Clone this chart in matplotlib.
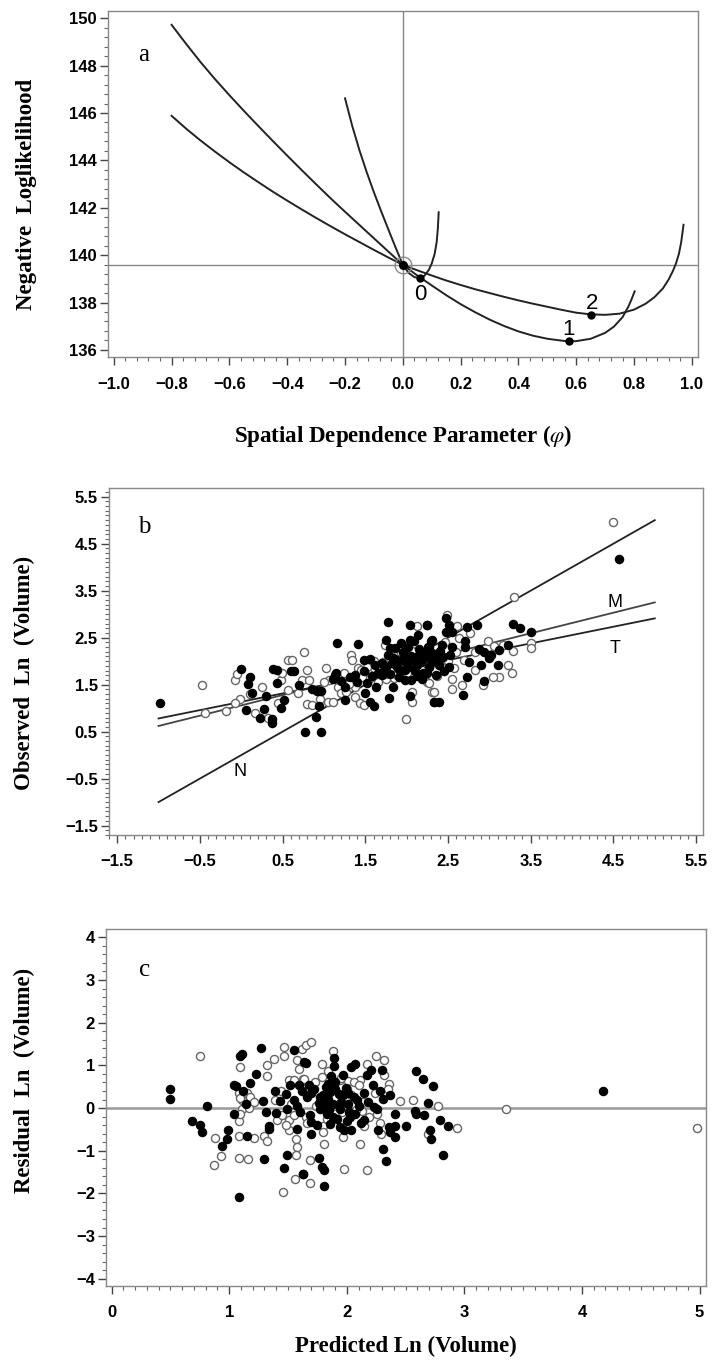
import matplotlib
matplotlib.use('Agg')
import matplotlib.pyplot as plt
from matplotlib.ticker import MultipleLocator

plt.rcParams['mathtext.fontset'] = 'stix'

# ---------------- panel a: likelihood profiles ----------------
c0_x = [-0.200, -0.175, -0.150, -0.125, -0.100, -0.075, -0.050, -0.025, 0.0, 0.02, 0.04, 0.059, 0.075, 0.09, 0.10, 0.11, 0.117, 0.121, 0.124]
c0_y = [146.62, 145.45, 144.42, 143.50, 142.65, 141.85, 141.08, 140.32, 139.59, 139.25, 139.07, 139.04, 139.13, 139.38, 139.65, 140.05, 140.55, 141.10, 141.81]

c1_x = [-0.80, -0.75, -0.70, -0.65, -0.60, -0.55, -0.50, -0.45, -0.40, -0.35, -0.30, -0.25, -0.20, -0.15, -0.10, -0.05, 0.0,
        0.05, 0.10, 0.15, 0.20, 0.25, 0.30, 0.35, 0.40, 0.45, 0.50, 0.55, 0.575, 0.60, 0.65, 0.70, 0.73, 0.76, 0.78, 0.79, 0.802]
c1_y = [149.72, 148.92, 148.15, 147.43, 146.75, 146.09, 145.45, 144.82, 144.20, 143.59, 142.99, 142.40, 141.83, 141.27, 140.71, 140.15, 139.59,
        139.14, 138.72, 138.31, 137.93, 137.59, 137.28, 137.01, 136.78, 136.60, 136.47, 136.39, 136.36, 136.37, 136.47, 136.72, 136.98, 137.38, 137.82, 138.10, 138.47]

c2_x = [-0.80, -0.75, -0.70, -0.65, -0.60, -0.55, -0.50, -0.45, -0.40, -0.35, -0.30, -0.25, -0.20, -0.15, -0.10, -0.05, 0.0,
        0.05, 0.10, 0.15, 0.20, 0.25, 0.30, 0.35, 0.40, 0.45, 0.50, 0.55, 0.60, 0.65, 0.70, 0.75, 0.80, 0.84, 0.87, 0.90, 0.92, 0.935, 0.945, 0.955, 0.963, 0.971]
c2_y = [145.88, 145.34, 144.84, 144.37, 143.92, 143.49, 143.08, 142.68, 142.30, 141.93, 141.57, 141.22, 140.88, 140.55, 140.22, 139.90, 139.59,
        139.36, 139.14, 138.93, 138.74, 138.56, 138.40, 138.24, 138.09, 137.95, 137.82, 137.69, 137.57, 137.50, 137.48, 137.53, 137.70, 137.95, 138.22, 138.60, 138.98, 139.35, 139.65, 140.05, 140.55, 141.28]

min_x = [0.059, 0.575, 0.650]
min_y = [139.04, 136.36, 137.47]
min_lab = ['0', '1', '2']
lab_x = [0.062, 0.574, 0.653]
lab_y = [138.32, 136.84, 137.97]
ref_phi = 0.0
ref_nll = 139.59

# ---------------- panel b: observed vs predicted ----------------
b_fill_x = [-0.98, 0.00, 0.10, 0.08, 0.13, 0.06, 0.27, 0.23, 0.37, 0.37, 0.38, 0.43, 0.60, 0.43, 0.52, 0.48,
            0.64, 0.77, 0.96, 0.90, 0.94, 0.92, 0.96, 1.16, 1.41, 1.13, 1.15, 1.11, 1.26, 1.25, 1.37, 1.49,
            1.56, 1.49, 1.52, 1.50, 1.56, 1.60, 1.63, 1.72, 1.77, 1.75, 1.80, 1.83, 1.87, 1.93, 1.79, 1.83,
            1.95, 1.98, 2.04, 2.04, 2.09, 2.14, 2.24, 2.05, 2.04, 2.18, 2.29, 2.31, 2.27, 2.17, 2.33, 2.11,
            1.91, 1.75, 2.25, 2.48, 2.51, 2.48, 2.55, 2.73, 2.85, 3.28, 3.37, 3.50, 2.31, 2.27, 2.43, 2.55,
            2.71, 2.71, 2.29, 2.39, 2.53, 2.88, 2.94, 3.02, 3.12, 3.23, 2.75, 2.90, 3.00, 3.10, 2.27, 2.39,
            2.51, 2.73, 2.94, 2.68, 2.33, 2.39, 2.25, 4.57, 1.85, 1.90, 2.00, 2.05, 1.95, 2.15, 2.20, 1.70,
            1.65, 2.10, 2.20, 1.80, 1.78, 1.82, 1.88, 1.92, 1.97, 2.02, 2.06, 2.12, 2.16, 2.22, 2.26, 2.30,
            2.35, 2.40, 2.44, 2.02, 1.86, 1.70, 1.62, 1.58, 2.45, 2.36, 1.98, 2.12, 1.40, 1.32, 1.20, 0.70,
            0.85, 0.30]
b_fill_y = [1.10, 1.83, 1.66, 1.51, 1.33, 0.96, 0.99, 0.78, 0.77, 0.69, 1.83, 1.81, 1.79, 1.53, 1.17, 1.01,
            1.79, 0.49, 0.49, 0.82, 1.05, 1.37, 1.37, 2.38, 2.36, 1.71, 1.74, 1.61, 1.46, 1.17, 1.71, 1.78,
            2.04, 2.03, 1.53, 1.32, 1.14, 1.05, 1.46, 1.81, 2.84, 2.44, 2.27, 2.06, 1.92, 2.38, 1.21, 1.46,
            2.03, 1.81, 2.77, 2.45, 2.42, 2.56, 2.77, 1.60, 1.26, 1.61, 2.42, 2.17, 1.88, 1.99, 1.14, 2.09,
            1.67, 1.88, 2.77, 2.91, 2.77, 2.63, 2.63, 2.72, 2.77, 2.78, 2.70, 2.63, 2.45, 2.31, 2.34, 2.31,
            2.42, 2.31, 2.10, 2.13, 2.13, 2.25, 2.20, 2.13, 2.24, 2.34, 1.99, 1.92, 2.06, 1.92, 1.88, 1.92,
            1.88, 1.67, 1.58, 1.28, 1.14, 1.14, 1.74, 4.17, 2.00, 1.85, 1.95, 2.10, 2.20, 2.25, 2.05, 1.95,
            1.75, 1.80, 1.75, 1.72, 2.12, 1.95, 2.02, 1.78, 2.15, 1.88, 2.02, 1.92, 2.12, 2.18, 2.30, 2.05,
            1.98, 2.22, 2.08, 2.30, 2.28, 1.70, 1.92, 1.68, 1.80, 1.70, 1.60, 1.68, 1.55, 1.66, 1.58, 1.50,
            1.40, 1.25]
b_open_x = [-0.48, -0.44, -0.18, -0.07, -0.05, -0.01, -0.07, 0.17, 0.32, 0.44, 0.48, 0.49, 0.57, 0.56,
            0.61, 0.76, 0.73, 0.82, 0.80, 0.69, 0.80, 0.85, 1.02, 1.06, 1.05, 1.11, 1.17, 1.20, 1.33, 1.34,
            1.41, 1.45, 1.38, 1.44, 1.49, 1.37, 1.74, 1.93, 1.99, 2.07, 2.07, 2.13, 2.01, 1.97, 1.75, 1.71,
            1.61, 2.31, 2.24, 2.19, 2.07, 1.55, 1.27, 2.49, 2.61, 2.77, 2.63, 3.30, 2.98, 3.06, 3.28, 3.50,
            3.50, 3.16, 2.83, 3.22, 3.27, 3.12, 3.04, 2.92, 2.83, 2.55, 2.57, 2.55, 2.67, 2.33, 2.37, 2.27,
            2.69, 4.50, 1.80, 1.90, 2.00, 2.10, 2.20, 1.85, 2.30, 2.40, 1.65, 1.82, 1.90, 1.96, 2.04, 2.14,
            2.18, 2.24, 2.34, 2.42, 1.68, 1.74, 1.60, 1.52, 1.46, 1.30, 1.24, 2.50, 2.60, 2.06, 1.88, 0.95,
            1.00, 0.25, 0.10, 2.46]
b_open_y = [1.49, 0.89, 0.94, 1.60, 1.73, 1.20, 1.10, 0.89, 0.80, 1.10, 1.60, 1.74, 2.02, 1.39,
            2.03, 2.20, 1.60, 1.60, 1.81, 1.33, 1.09, 1.07, 1.85, 1.60, 1.14, 1.14, 1.46, 1.32, 2.13, 2.03,
            1.85, 1.81, 1.23, 1.10, 1.07, 1.46, 2.34, 2.17, 0.76, 1.12, 1.35, 2.75, 2.13, 1.64, 1.61, 1.99,
            1.85, 1.35, 1.56, 2.17, 1.99, 1.61, 1.35, 2.98, 2.75, 2.59, 2.49, 3.37, 2.42, 2.32, 2.22, 2.38,
            2.27, 2.34, 2.20, 1.92, 1.74, 1.66, 1.66, 1.50, 1.81, 1.61, 1.85, 1.40, 1.50, 1.35, 1.69, 1.53,
            2.03, 4.97, 1.80, 2.05, 1.75, 1.95, 1.90, 1.65, 2.00, 2.05, 1.55, 2.08, 1.92, 2.00, 1.92, 2.05,
            1.82, 2.10, 2.15, 1.90, 1.80, 1.72, 2.00, 1.88, 1.66, 1.52, 1.75, 2.00, 2.20, 2.22, 1.70, 1.20,
            1.55, 1.45, 1.30, 2.40]
fit_x = [-1.0, 5.0]
fit_N = [-1.0, 5.0]
fit_M = [0.62, 3.25]
fit_T = [0.78, 2.91]

# ---------------- panel c: residuals ----------------
c_fill_x = [0.50, 0.50, 0.81, 0.68, 0.75, 0.77, 0.99, 0.98, 0.94, 1.11, 1.09, 1.27, 1.23, 1.18, 1.04, 1.06,
            1.12, 1.14, 1.04, 1.15, 1.30, 1.08, 1.29, 1.31, 1.34, 1.34, 1.39, 1.43, 1.48, 1.40, 1.49, 1.55,
            1.65, 1.52, 1.59, 1.62, 1.58, 1.49, 1.47, 1.63, 1.66, 1.64, 1.70, 1.69, 1.70, 1.70, 1.77, 1.81,
            1.77, 1.89, 1.89, 1.97, 2.04, 2.07, 1.84, 1.86, 1.90, 1.84, 1.88, 1.83, 1.88, 1.86, 1.94, 2.01,
            1.97, 2.01, 2.09, 2.03, 1.94, 1.98, 2.04, 2.15, 2.15, 2.17, 2.21, 2.30, 2.23, 2.26, 2.28, 2.31,
            2.37, 2.37, 2.41, 2.41, 2.36, 2.41, 2.50, 2.27, 2.31, 2.33, 2.59, 2.65, 2.73, 2.58, 2.69, 2.66,
            2.59, 2.79, 2.71, 2.72, 2.86, 2.82, 1.63, 1.76, 1.79, 1.81, 1.81, 4.18, 1.72, 1.76, 1.80, 1.85,
            1.90, 1.92, 1.95, 1.99, 2.02, 2.06, 2.10, 2.12, 2.18, 2.22, 1.68, 1.60, 1.55, 1.75, 1.87, 2.00,
            1.93, 1.82, 2.07, 1.58]
c_fill_y = [0.44, 0.22, 0.05, -0.31, -0.39, -0.55, -0.52, -0.72, -0.90, 1.27, 1.21, 1.41, 0.79, 0.59, 0.55, 0.52,
            0.41, 0.10, -0.15, -0.66, -1.19, -2.09, 0.16, -0.09, -0.43, -0.48, 0.41, 0.16, 0.32, -0.12, -0.02, 1.37,
            1.05, 0.53, 0.53, 0.41, -0.48, -1.09, -1.41, -1.55, 0.26, 1.08, 0.35, -0.16, -0.33, -0.60, 0.26, 0.06,
            -0.02, 1.18, 0.98, 0.77, 0.96, 1.04, 0.57, 0.38, 0.45, 0.22, 0.10, -0.13, -0.21, -0.37, -0.02, 0.10,
            0.30, 0.35, 0.20, -0.21, -0.45, -0.51, -0.52, 0.35, -0.27, 0.77, 0.88, 0.90, 0.02, -0.02, 0.40, 0.22,
            0.30, -0.56, -0.13, -0.41, -0.45, -0.68, -0.41, -0.51, -0.95, -1.23, 0.87, 0.67, 0.51, -0.07, 0.12, -0.16,
            -0.13, -0.29, -0.51, -0.72, -0.41, -1.09, -1.54, -1.17, -1.38, -1.45, -1.83, 0.40, 0.45, 0.12, 0.30, -0.05,
            0.60, -0.25, 0.15, 0.48, -0.10, 0.25, 0.05, -0.35, 0.15, 0.55, 0.55, -0.10, 0.20, -0.40, 0.75, -0.30,
            0.32, 0.50, -0.15, 0.05]
c_open_x = [0.75, 0.88, 0.93, 0.87, 1.08, 1.08, 1.16, 1.21, 1.30, 1.32, 1.09, 1.08, 1.11, 1.15, 1.18, 1.09,
            1.11, 1.17, 1.21, 1.08, 1.09, 1.32, 1.32, 1.38, 1.47, 1.47, 1.62, 1.65, 1.58, 1.59, 1.39, 1.41,
            1.45, 1.51, 1.55, 1.51, 1.55, 1.63, 1.57, 1.58, 1.57, 1.56, 1.46, 1.51, 1.65, 1.70, 1.88, 1.79,
            1.64, 1.79, 1.94, 2.01, 2.11, 2.17, 2.25, 2.32, 2.32, 2.36, 2.45, 2.56, 2.78, 2.94, 2.69, 2.28,
            2.15, 2.29, 1.97, 2.11, 1.81, 1.69, 1.98, 2.17, 1.69, 2.13, 2.06, 1.84, 1.80, 2.00, 3.35, 4.98,
            1.70, 1.74, 1.78, 1.83, 1.87, 1.91, 1.96, 2.00, 2.04, 2.08, 2.14, 2.19, 2.24, 1.66, 1.61, 1.53,
            1.48, 1.44, 2.26, 2.35, 1.80, 1.95, 2.10, 1.73]
c_open_y = [1.23, -0.70, -1.13, -1.34, -0.66, -1.16, -1.19, -0.70, -0.66, -0.77, 0.96, 0.35, 0.18, 0.35, 0.27, 0.24,
            -0.02, 0.01, 0.14, -0.31, -0.13, 1.00, 0.74, 1.16, 1.43, 1.21, 1.39, 1.47, 1.13, 0.92, 0.18, -0.27,
            -0.17, -0.27, -0.17, 0.65, 0.65, 0.69, -0.72, -0.91, -1.09, -1.66, -1.97, -0.52, -0.21, 1.55, 1.34, 1.04,
            0.69, 0.73, 0.65, 0.63, 0.65, 1.04, 1.23, 1.13, 0.77, 0.57, 0.16, 0.20, 0.04, -0.47, -0.60, -0.35,
            -0.41, -0.62, -0.68, -0.84, -0.85, -1.21, -1.42, -1.46, -1.76, -0.07, 0.61, 0.87, -0.43, -0.05, -0.03, -0.47,
            0.35, 0.05, 0.20, -0.25, 0.40, 0.05, -0.10, 0.45, 0.30, -0.05, 0.15, -0.20, 0.35, -0.35, 0.50, 0.10,
            -0.40, 0.40, -0.15, 0.45, -0.55, 0.70, 0.55, 0.62]

tick_family = ['Liberation Sans Narrow', 'Liberation Sans']
label_font = {'family': 'Liberation Serif', 'weight': 'bold', 'size': 16.5}


def style_axes(ax):
    for sp in ax.spines.values():
        sp.set_color('#888888')
        sp.set_linewidth(1.0)
    ax.tick_params(which='major', direction='out', length=6, width=1, color='#444444', pad=8)
    ax.tick_params(which='minor', direction='out', length=3, width=0.8, color='#666666')
    ax.tick_params(axis='y', which='major', pad=2)
    for t in ax.get_xticklabels() + ax.get_yticklabels():
        t.set_fontfamily(tick_family)
        t.set_fontweight('bold')
        t.set_fontsize(12)


fig = plt.figure(figsize=(7.12, 13.63), dpi=100)

# panel a
ax1 = fig.add_axes([0.1517, 0.7379, 0.829, 0.2543])
ax1.axhline(ref_nll, color='#888888', lw=1.0)
ax1.axvline(ref_phi, color='#888888', lw=1.0)
for cx, cy in [(c0_x, c0_y), (c1_x, c1_y), (c2_x, c2_y)]:
    ax1.plot(cx, cy, color='#222222', lw=1.4, solid_joinstyle='round')
ax1.plot([ref_phi], [ref_nll], 'o', ms=12, mfc='none', mec='#888888', mew=1.0)
ax1.plot([ref_phi], [ref_nll], 'o', ms=5.5, color='black')
ax1.plot(min_x, min_y, 'o', ms=5, color='black')
for lx, ly, s in zip(lab_x, lab_y, min_lab):
    ax1.text(lx, ly, s, ha='center', va='center', fontsize=16, family='Liberation Sans')
ax1.text(-0.897, 148.45, 'a', ha='center', va='center', fontsize=18, family='Liberation Serif')
ax1.set_xlim(-1.02, 1.022)
ax1.set_ylim(135.69, 150.32)
ax1.xaxis.set_minor_locator(MultipleLocator(0.04))
ax1.yaxis.set_minor_locator(MultipleLocator(0.4))
ax1.set_xticks([-1.0, -0.8, -0.6, -0.4, -0.2, 0.0, 0.2, 0.4, 0.6, 0.8, 1.0])
ax1.set_xticklabels(['\u22121.0', '\u22120.8', '\u22120.6', '\u22120.4', '\u22120.2', '0.0', '0.2', '0.4', '0.6', '0.8', '1.0'])
ax1.set_yticks([136, 138, 140, 142, 144, 146, 148, 150])
style_axes(ax1)
ax1.set_ylabel('Negative  Loglikelihood', fontdict=label_font)
ax1.yaxis.set_label_coords(-0.12, 0.47)
ax1.set_xlabel('Spatial Dependence Parameter ($\\varphi$)', fontdict=label_font)
ax1.xaxis.set_label_coords(0.5, -0.19)

# panel b
ax2 = fig.add_axes([0.153, 0.3874, 0.834, 0.2544])
ax2.plot(fit_x, fit_N, color='#222222', lw=1.3)
ax2.plot(fit_x, fit_M, color='#444444', lw=1.3)
ax2.plot(fit_x, fit_T, color='#222222', lw=1.3)
ax2.scatter(b_open_x, b_open_y, s=34, facecolors='white', edgecolors='#666666', linewidths=1.0, zorder=3)
ax2.scatter(b_fill_x, b_fill_y, s=34, color='black', zorder=4)
ax2.text(4.52, 3.25, 'M', ha='center', va='center', fontsize=13, family='Liberation Sans')
ax2.text(4.52, 2.26, 'T', ha='center', va='center', fontsize=13, family='Liberation Sans')
ax2.text(-0.02, -0.35, 'N', ha='center', va='center', fontsize=13, family='Liberation Sans')
ax2.text(-1.17, 4.85, 'b', ha='center', va='center', fontsize=18, family='Liberation Serif')
ax2.set_xlim(-1.6, 5.58)
ax2.set_ylim(-1.70, 5.68)
ax2.set_xticks([-1.5, -0.5, 0.5, 1.5, 2.5, 3.5, 4.5, 5.5])
ax2.set_xticklabels(['\u22121.5', '\u22120.5', '0.5', '1.5', '2.5', '3.5', '4.5', '5.5'])
ax2.set_yticks([-1.5, -0.5, 0.5, 1.5, 2.5, 3.5, 4.5, 5.5])
ax2.set_yticklabels(['\u22121.5', '\u22120.5', '0.5', '1.5', '2.5', '3.5', '4.5', '5.5'])
ax2.xaxis.set_minor_locator(MultipleLocator(0.1))
ax2.yaxis.set_minor_locator(MultipleLocator(0.1))
style_axes(ax2)
ax2.set_ylabel('Observed  Ln  (Volume)', fontdict=label_font)
ax2.yaxis.set_label_coords(-0.125, 0.467)

# panel c
ax3 = fig.add_axes([0.1489, 0.0565, 0.8427, 0.2619])
ax3.axhline(0, color='#999999', lw=1.8, zorder=2)
ax3.scatter(c_open_x, c_open_y, s=34, facecolors='white', edgecolors='#666666', linewidths=1.0, zorder=3)
ax3.scatter(c_fill_x, c_fill_y, s=34, color='black', zorder=4)
ax3.text(0.28, 3.23, 'c', ha='center', va='center', fontsize=18, family='Liberation Serif')
ax3.set_xlim(-0.047, 5.055)
ax3.set_ylim(-4.17, 4.195)
ax3.set_xticks([0, 1, 2, 3, 4, 5])
ax3.set_yticks([-4, -3, -2, -1, 0, 1, 2, 3, 4])
ax3.set_yticklabels(['\u22124', '\u22123', '\u22122', '\u22121', '0', '1', '2', '3', '4'])
ax3.xaxis.set_minor_locator(MultipleLocator(0.1))
ax3.yaxis.set_minor_locator(MultipleLocator(0.2))
style_axes(ax3)
ax3.set_ylabel('Residual  Ln  (Volume)', fontdict=label_font)
ax3.yaxis.set_label_coords(-0.118, 0.575)
ax3.set_xlabel('Predicted Ln (Volume)', fontdict=label_font)
ax3.xaxis.set_label_coords(0.5, -0.14)

fig.savefig('out.png', dpi=100)
